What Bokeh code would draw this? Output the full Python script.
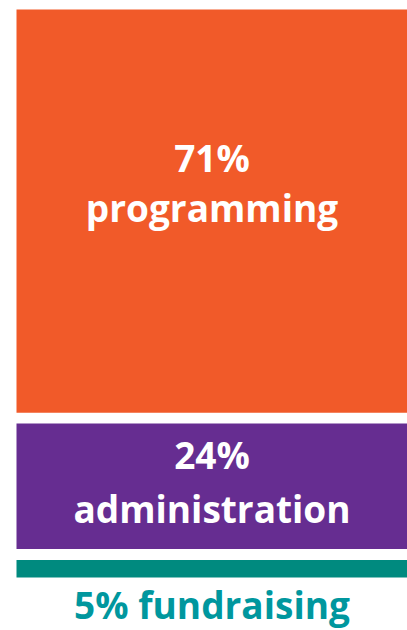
from bokeh.plotting import figure
from bokeh.models import Range1d, ColumnDataSource
from bokeh.core.properties import value
from bokeh.embed import file_html
from bokeh.resources import INLINE

# ---- data ----
categories = ["programming", "administration", "fundraising"]
values = [71, 24, 5]
bar_colors = ["#F15A29", "#662D91", "#008A7F"]

# ---- layout/style constants ----
FONT = "Open Sans"
FONT_SIZE = "37px"
GAP = 1.9            # gap between cells in data units
PX_PER_UNIT = 5.68   # 100 units -> 568 px of frame
W, H = 407, 630
left_pad_px = 16
top_pad_px = 9
SHIFT = -15          # baseline correction in px

# cumulative stacking (inverted y: 0 at top)
tops, bottoms = [], []
acc = 0
for i, v in enumerate(values):
    t = acc + (GAP if i > 0 else 0)
    acc += v
    tops.append(t)
    bottoms.append(acc)
mids = [(t + b) / 2 for t, b in zip(tops, bottoms)]

x_start = -left_pad_px / (W - left_pad_px)
y_top = -top_pad_px / PX_PER_UNIT
y_bottom = (H - top_pad_px) / PX_PER_UNIT

p = figure(width=W, height=H, output_backend="svg", toolbar_location=None,
           x_range=Range1d(x_start, 1), y_range=Range1d(y_bottom, y_top),
           min_border=0, min_border_left=0, min_border_right=0,
           min_border_top=0, min_border_bottom=0)
p.axis.visible = False
p.grid.visible = False
p.outline_line_color = None
p.background_fill_color = "white"
p.border_fill_color = "white"

src = ColumnDataSource(dict(left=[0] * len(values), right=[1] * len(values),
                            top=tops, bottom=bottoms, color=bar_colors))
p.quad(left="left", right="right", top="top", bottom="bottom",
       fill_color="color", line_color=None, source=src)

# labels inside the two large cells
pct_dy_px = [-39, -17]
name_dy_px = [11, 37]
pct_labels = [f"{v}%" for v in values]
inside = ColumnDataSource(dict(
    x=[0.5, 0.5],
    y_pct=[mids[i] + (pct_dy_px[i] + SHIFT) / PX_PER_UNIT for i in range(2)],
    y_name=[mids[i] + (name_dy_px[i] + SHIFT) / PX_PER_UNIT for i in range(2)],
    pct=pct_labels[:2], name=categories[:2]))
for col, txt in (("y_pct", "pct"), ("y_name", "name")):
    p.text(x="x", y=col, text=txt, source=inside, text_color="white",
           text_font=value(FONT), text_font_style="bold",
           text_font_size=FONT_SIZE, text_align="center",
           text_baseline="alphabetic")

# label below the small cell
below = ColumnDataSource(dict(x=[0.5], y=[bottoms[2] + (42 + SHIFT) / PX_PER_UNIT],
                              t=[f"{pct_labels[2]} {categories[2]}"]))
p.text(x="x", y="y", text="t", source=below, text_color="#00979E",
       text_font=value(FONT), text_font_style="bold",
       text_font_size=FONT_SIZE, text_align="center",
       text_baseline="alphabetic")

open("out.html", "w").write(file_html(p, INLINE))
